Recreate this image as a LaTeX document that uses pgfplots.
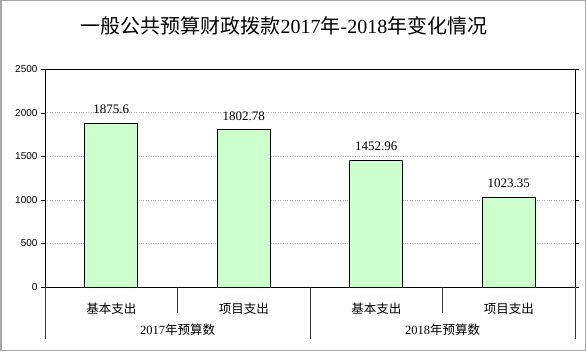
\documentclass[border=0pt]{standalone}
\usepackage{fontspec}
\setmainfont{Liberation Serif}
\newfontfamily\cjk{Noto Sans CJK SC}
\newfontfamily\sans{Liberation Sans}
\usepackage{pgfplots}
\pgfplotsset{compat=1.18}
\definecolor{barg}{HTML}{CCFFCC}
\begin{document}
\begin{tikzpicture}[x=1pt,y=1pt]
\path[use as bounding box] (0,0) rectangle (586,351);
\draw[gray!70, line width=1.5pt] (0.75,0.75) rectangle (585.25,350.25);
\node[font=\fontsize{20}{24}\selectfont] at (284,325) {{\cjk 一般公共预算财政拨款}2017{\cjk 年}-2018{\cjk 年变化情况}};
\begin{axis}[
  at={(45pt,64pt)}, anchor=south west, scale only axis,
  width=530pt, height=218pt,
  xmin=-0.5, xmax=3.5, ymin=0, ymax=2500,
  ytick={0,500,...,2500},
  xtick={0,1,2,3},
  xticklabels={基本支出,项目支出,基本支出,项目支出},
  xticklabel style={font=\cjk\fontsize{12.5}{14}\selectfont, anchor=center, yshift=-18pt},
  yticklabel style={font=\sans\fontsize{10}{12}\selectfont},
  /pgf/number format/assume math mode=true,
  /pgf/number format/1000 sep={},
  x tick style={draw=none},
  y tick style={draw=black},
  tick align=outside, major tick length=4pt,
  ymajorgrids, grid style={gray!60, dotted},
  axis line style={black, line width=0.8pt},
  clip=false,
  ybar, bar width=53pt,
  point meta=explicit symbolic,
  nodes near coords,
  every node near coord/.append style={font=\fontsize{13}{15}\selectfont, anchor=center, yshift=14pt},
]
\addplot[fill=barg, draw=black, line width=1pt] coordinates {(0,1875.6)[1875.6] (1,1802.78)[1802.78] (2,1452.96)[1452.96] (3,1023.35)[1023.35]};
\draw[black!80, line width=0.6pt] (axis cs:0.5,0) -- ++(0pt,-26pt);
\draw[black!80, line width=0.6pt] (axis cs:2.5,0) -- ++(0pt,-26pt);
\draw[black!80, line width=0.6pt] (axis cs:-0.5,0) -- ++(0pt,-52pt);
\draw[black!80, line width=0.6pt] (axis cs:1.5,0) -- ++(0pt,-52pt);
\draw[black!80, line width=0.6pt] (axis cs:3.5,0) -- ++(0pt,-52pt);
\node[font=\fontsize{12.5}{14}\selectfont, yshift=-43pt] at (axis cs:0.5,0) {2017{\cjk 年预算数}};
\node[font=\fontsize{12.5}{14}\selectfont, yshift=-43pt] at (axis cs:2.5,0) {2018{\cjk 年预算数}};
\end{axis}
\end{tikzpicture}
\end{document}
